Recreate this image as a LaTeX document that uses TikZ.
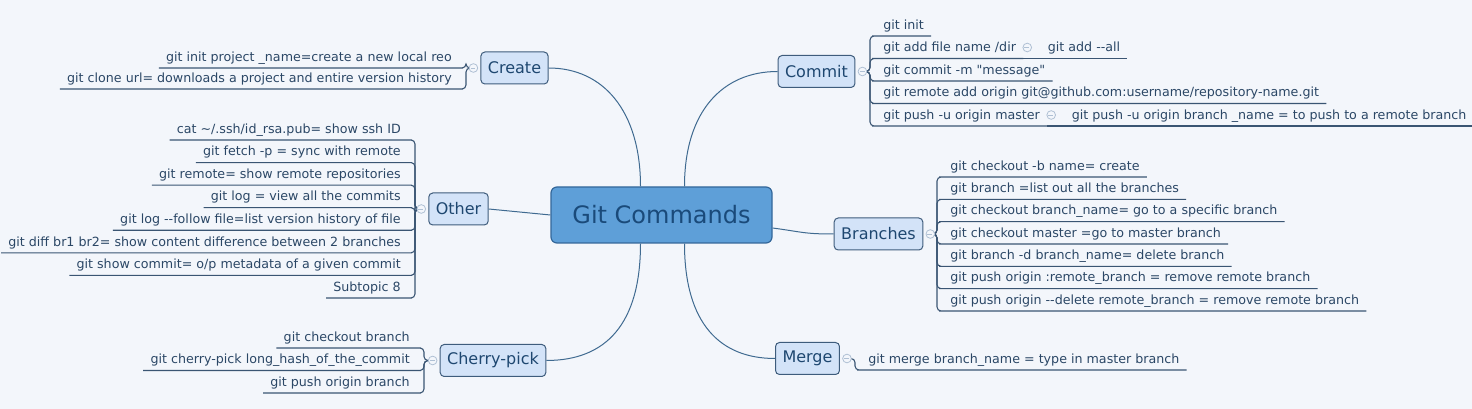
\documentclass[tikz,border=0pt]{standalone}
\usepackage{fontspec}
\newfontfamily\mapfont{DejaVu Sans}
\usepackage{tikz}
\usetikzlibrary{calc, positioning}

\definecolor{bgcol}{HTML}{F3F6FB}
\definecolor{hubfill}{HTML}{5E9FD8}
\definecolor{hubdraw}{HTML}{33679A}
\definecolor{hubink}{HTML}{1A4A7A}
\definecolor{topicfill}{HTML}{D3E3F8}
\definecolor{topicdraw}{HTML}{3E5C7C}
\definecolor{topicink}{HTML}{1E4770}
\definecolor{leafink}{HTML}{2B4766}
\definecolor{twigcol}{HTML}{3A5573}
\definecolor{linkcol}{HTML}{3F6A90}
\definecolor{knobcol}{HTML}{AFC0D4}

\begin{document}
\begin{tikzpicture}[x=0.75pt, y=-0.75pt,
  hub/.style={draw=hubdraw, fill=hubfill, line width=0.9pt, rounded corners=4.5pt,
    minimum width=165.75pt, minimum height=42pt, text=hubink,
    font=\mapfont\fontsize{18}{20}\selectfont},
  topic/.style={draw=topicdraw, fill=topicfill, line width=0.75pt, rounded corners=3pt,
    minimum height=24pt, inner xsep=5.25pt, text=topicink,
    font=\mapfont\fontsize{12}{14}\selectfont},
  leaf/.style={inner xsep=5.25pt, inner ysep=0pt, text height=7.2pt, text depth=4.9pt,
    text=leafink, font=\mapfont\fontsize{9.5}{11}\selectfont},
  link/.style={draw=linkcol, line width=0.75pt},
  twig/.style={draw=twigcol, line width=0.8pt, rounded corners=3pt},
  knob/.style={circle, draw=knobcol, fill=bgcol, line width=0.6pt, inner sep=0pt,
    minimum size=6.5pt,
    append after command={(\tikzlastnode.west) ++(1.4pt,0) edge[draw=knobcol, line width=0.6pt] ++(3.7pt,0)}}]

% Background and page size
\fill[bgcol] (0,0) rectangle (1472,409);
\useasboundingbox (0,0) rectangle (1472,409);

% ---- Central topic and main topics ----
\node[hub] (gitcmd) at (661.5,215) {Git Commands};
\node[topic] (create) at (514.5,68) {Create};
\node[topic] (other) at (458.5,209) {Other};
\node[topic] (cherry) at (493,360.5) {Cherry-pick};
\node[topic] (commit) at (816.5,71.5) {Commit};
\node[topic] (branches) at (878.5,234) {Branches};
\node[topic] (merge) at (807.5,358.5) {Merge};

% ---- Connectors from the centre ----
\draw[link] ($(gitcmd.north)+(-21,0)$) .. controls +(0,-75) and +(55,0) .. (create.east);
\draw[link] ($(gitcmd.north)+(23,0)$) .. controls +(0,-75) and +(-55,0) .. (commit.west);
\draw[link] (gitcmd.west) -- (other.east);
\draw[link] ($(gitcmd.east)+(0,13)$) .. controls +(30,4) and +(-30,0) .. (branches.west);
\draw[link] ($(gitcmd.south)+(-21,0)$) .. controls +(0,80) and +(60,0) .. (cherry.east);
\draw[link] ($(gitcmd.south)+(23,0)$) .. controls +(0,80) and +(-55,0) .. (merge.west);

% Collapse knobs next to the main topics
\coordinate (createknob) at ($(create.west)+(-7,0)$);
\coordinate (otherknob) at ($(other.west)+(-7,0)$);
\coordinate (cherryknob) at ($(cherry.west)+(-7,0)$);
\coordinate (commitknob) at ($(commit.east)+(7,0)$);
\coordinate (branchknob) at ($(branches.east)+(7,0)$);
\coordinate (mergeknob) at ($(merge.east)+(7,0)$);

% ---- Create ----
\foreach \txt [count=\i] in {git init project \_name=create a new local reo,
  git clone url= downloads a project and entire version history}
{
  \pgfmathsetmacro\uy{68+(\i-1)*21}
  \node[leaf, anchor=south east] (cr\i) at (459,\uy) {\txt};
  \draw[twig] (cr\i.south west) -- (cr\i.south east) -- ++(7,0) |- (createknob);
}

% ---- Other ----
\foreach \txt [count=\i] in {cat \textasciitilde/.ssh/id\_rsa.pub= show ssh ID,
  git fetch -p = sync with remote,
  git remote= show remote repositories,
  git log = view all the commits,
  git log --follow file=list version history of file,
  git diff br1 br2= show content difference between 2 branches,
  git show commit= o/p metadata of a given commit,
  Subtopic 8}
{
  \pgfmathsetmacro\uy{140+(\i-1)*22.57}
  \node[leaf, anchor=south east] (ot\i) at (408,\uy) {\txt};
  \draw[twig] (ot\i.south west) -- (ot\i.south east) -- ++(7,0) |- (otherknob);
}

% ---- Cherry-pick ----
\foreach \txt [count=\i] in {git checkout branch,
  git cherry-pick long\_hash\_of\_the\_commit,
  git push origin branch}
{
  \pgfmathsetmacro\uy{348+(\i-1)*22.5}
  \node[leaf, anchor=south east] (ch\i) at (417,\uy) {\txt};
  \draw[twig] (ch\i.south west) -- (ch\i.south east) -- ++(7,0) |- (cherryknob);
}

% ---- Commit ----
\foreach \txt [count=\i] in {git init,
  git add file name /dir,
  git commit -m "message",
  git remote add origin git@github.com:username/repository-name.git,
  git push -u origin master}
{
  \pgfmathsetmacro\uy{36+(\i-1)*22.5}
  \node[leaf, anchor=south west] (co\i) at (876,\uy) {\txt};
  \draw[twig] (co\i.south east) -- (co\i.south west) -- ++(-6,0) |- (commitknob);
}
\node[leaf, right=13pt of co2] (co2a) {git add --all};
\node[leaf, right=13pt of co5] (co5a) {git push -u origin branch \_name = to push to a remote branch};
\draw[twig] (co2.south east) -- (co2a.south east);
\draw[twig] (co5.south east) -- (co5a.south east);

% ---- Branches ----
\foreach \txt [count=\i] in {git checkout -b name= create,
  git branch =list out all the branches,
  git checkout branch\_name= go to a specific branch,
  git checkout master =go to master branch,
  git branch -d branch\_name= delete branch,
  git push origin :remote\_branch = remove remote branch,
  git push origin --delete remote\_branch = remove remote branch}
{
  \pgfmathsetmacro\uy{177+(\i-1)*22.33}
  \node[leaf, anchor=south west] (br\i) at (943,\uy) {\txt};
  \draw[twig] (br\i.south east) -- (br\i.south west) -- ++(-6,0) |- (branchknob);
}

% ---- Merge ----
\node[leaf, anchor=south west] (me1) at (861,370) {git merge branch\_name = type in master branch};
\draw[twig] (me1.south east) -- (me1.south west) -- ++(-6,0) |- (mergeknob);

% Knobs on top of the lines
\foreach \k in {createknob, otherknob, cherryknob, commitknob, branchknob, mergeknob}
  \node[knob] at (\k) {};
\node[knob] at ($(co2.south east)+(4,-11)$) {};
\node[knob] at ($(co5.south east)+(4,-11)$) {};

\end{tikzpicture}
\end{document}
